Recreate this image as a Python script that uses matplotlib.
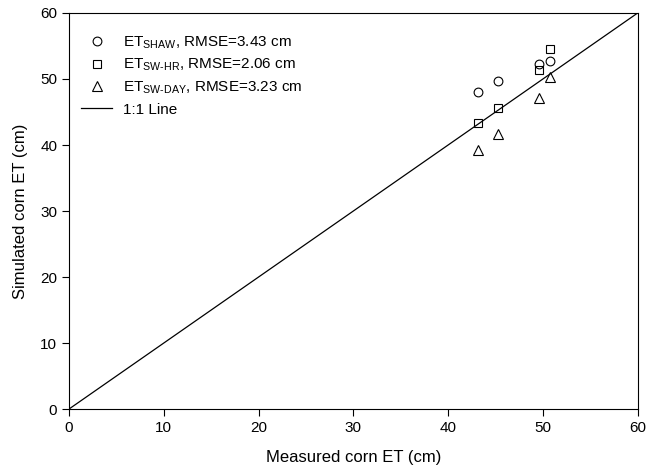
import matplotlib
matplotlib.use("Agg")
from matplotlib import pyplot as plt
import numpy as np

plt.rcParams['font.family'] = ['Liberation Sans', 'DejaVu Sans']
plt.rcParams['mathtext.fontset'] = 'custom'
plt.rcParams['mathtext.rm'] = 'Liberation Sans'
plt.rcParams['mathtext.it'] = 'Liberation Sans'

# measured vs simulated corn ET (cm)
measured = [43.2, 45.3, 49.6, 50.7]
et_shaw = [48.0, 49.7, 52.3, 52.8]
et_sw_hr = [43.3, 45.6, 51.3, 54.5]
et_sw_day = [39.2, 41.6, 47.1, 50.3]
one_to_one = [0, 60]

fig = plt.figure(figsize=(6.47, 4.74), dpi=100)
ax = fig.add_axes([0.1066, 0.137, 0.879, 0.8356])

ax.plot(measured, et_shaw, linestyle='none', marker='o', mfc='none', mec='black',
        ms=6.3, mew=0.8, label=r'ET$_{\rm SHAW}$, RMSE=3.43 cm')
ax.plot(measured, et_sw_hr, linestyle='none', marker='s', mfc='none', mec='black',
        ms=6.3, mew=0.8, label=r'ET$_{\rm SW\text{-}HR}$, RMSE=2.06 cm')
ax.plot(measured, et_sw_day, linestyle='none', marker='^', mfc='none', mec='black',
        ms=7.2, mew=0.8, label=r'ET$_{\rm SW\text{-}DAY}$, RMSE=3.23 cm')
ax.plot(one_to_one, one_to_one, color='black', lw=0.9, label='1:1 Line')

ax.set_xlim(0, 60)
ax.set_ylim(0, 60)
ax.set_xticks(np.arange(0, 61, 10))
ax.set_yticks(np.arange(0, 61, 10))
ax.tick_params(direction='out', length=5, width=0.8, labelsize=11)
ax.set_xlabel('Measured corn ET (cm)', fontsize=12, labelpad=11)
ax.set_ylabel('Simulated corn ET (cm)', fontsize=12, labelpad=9)
for s in ax.spines.values():
    s.set_linewidth(0.8)

ax.legend(loc='upper left', frameon=False, fontsize=11, handlelength=2.0,
          labelspacing=0.42, handletextpad=0.75, borderaxespad=0.6,
          bbox_to_anchor=(-0.005, 0.985))

fig.savefig('out.png', dpi=100)
